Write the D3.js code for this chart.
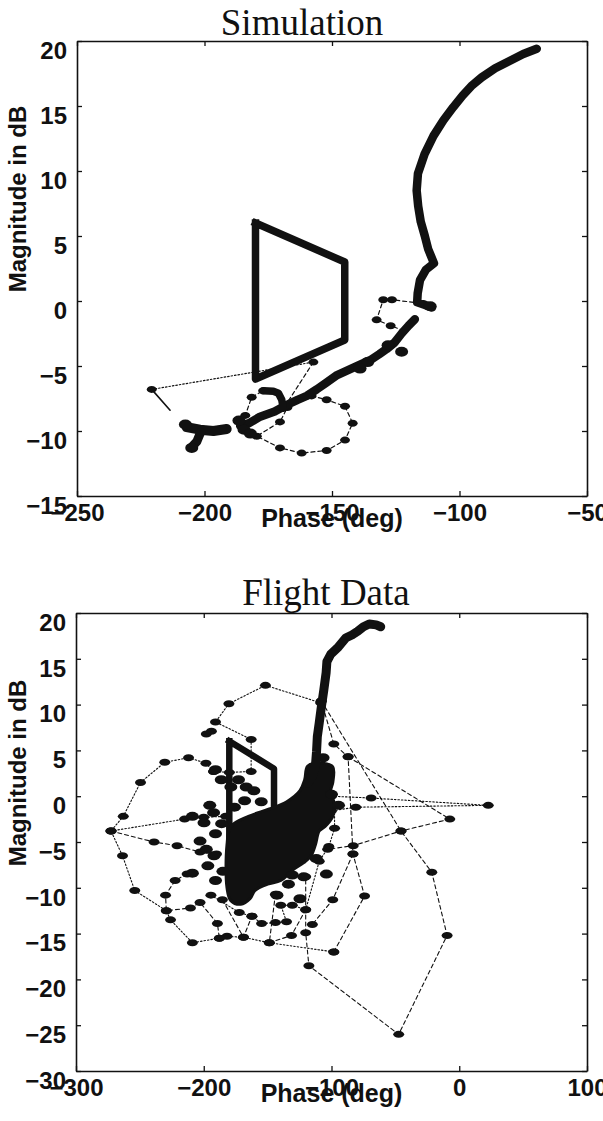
<!DOCTYPE html>
<html><head><meta charset="utf-8">
<script src="https://cdn.jsdelivr.net/npm/d3@7"></script>
<style>body{margin:0;background:#fff}</style>
</head><body>
<svg id="c" width="603" height="1121"></svg>
<script>
// ---------- tick labels ----------
const simPhaseTicks = [-250, -200, -150, -100, -50];
const simMagTicks = [-15, -10, -5, 0, 5, 10, 15, 20];
const flightPhaseTicks = [-300, -200, -100, 0, 100];
const flightMagTicks = [-30, -25, -20, -15, -10, -5, 0, 5, 10, 15, 20];

// ---------- exclusion boundary (phase deg, magnitude dB) ----------
const boundary = [[-180, 6], [-145, 3], [-145, -3], [-180, -6], [-180, 6]];

// ---------- Simulation ----------
const simUpper = [[-69.7,19.4],[-75,19],[-80,18.5],[-86,17.9],[-91.3,17.2],[-95,16.6],[-98.8,15.8],[-102.5,14.9],[-106.3,13.9],[-110.2,12.7],[-113.7,11.3],[-116.3,9.8],[-116.8,8.5],[-116.2,7.3],[-115.2,6.1],[-113.6,5],[-112.3,4],[-110,2.9],[-113.2,2.4],[-115.5,1.6],[-116.4,0.6],[-116.6,-0.1],[-113.5,-0.3],[-110.8,-0.5]];
const simLower = [[-117.5,-1.4],[-120,-1.9],[-122.7,-2.5],[-125.5,-3.2],[-128.6,-3.7],[-131.5,-4.1],[-134.6,-4.5],[-139,-4.9],[-143.5,-5.3],[-148,-5.7],[-152.4,-6.3],[-156,-6.8],[-159.9,-7.3],[-163.5,-7.6],[-167.8,-8],[-172.5,-8.5],[-178.2,-8.9],[-182.5,-9.4],[-186,-9.6]];
const simHook = [[-169.1,-8.25],[-169.7,-7.6],[-171,-7.1],[-173,-6.95],[-176.9,-6.9]];
const simBlob = [[-207,-9.7],[-201.8,-9.9],[-196.5,-10],[-191.3,-9.85]];
const simBlobTail = [[-201.5,-10.1],[-203,-10.8],[-204.8,-11.2]];
const simBeads = [[-122.7,-3.9],[-136,-4.7],[-139,-5.2],[-111.5,-0.4],[-184.5,-9.9],[-182,-10.2],[-186.5,-9.2],[-128,-3.4],[-207.5,-9.5],[-205,-11.3]];
const simCircle = [[-158,-7.3],[-152.1,-7.6],[-144.9,-8.1],[-141.9,-9.4],[-144.9,-10.7],[-152.1,-11.5],[-161.9,-11.7],[-170.4,-11.3],[-179.5,-10.4],[-170.4,-9.3],[-167.5,-8.2]];
const simLeftDash = [[-185,-9.4],[-184,-8.8],[-181.5,-7.4],[-177,-6.9]];
const simQuad = [[-118,-0.1],[-122.5,0],[-126.5,0.1],[-129.9,0.1],[-132.5,-1.45],[-127,-1.9],[-123,-2.2]];
const simDotted = [[-220.7,-6.8],[-157.3,-4.7]];
const simDash2 = [[-157.3,-4.7],[-167.8,-7.9]];
const simThin = [[-220.7,-6.8],[-213.5,-8.4]];

// ---------- Flight data ----------
const flightUpper = [[-61.5,18.5],[-65,18.7],[-70.5,18.8],[-75,18.5],[-79.5,18],[-84,17.6],[-88.6,17.3],[-94.6,16.3],[-100.6,15.5],[-103.6,14.7],[-104.2,13.5],[-106,11.6],[-108.1,9.6],[-109.6,8],[-111.1,6.5],[-111.7,4.9],[-112.6,3.3],[-115,2.2],[-118.6,1.4]];
const flightMass = [[-118.6,3.3],[-108,3.6],[-99,3.2],[-99,1.5],[-100.6,0.6],[-97.6,-1],[-99,-2.2],[-105,-3.3],[-109.6,-3.8],[-112.6,-5.3],[-116,-6.5],[-121.7,-7.25],[-130,-8],[-139.7,-9.2],[-150,-9.6],[-160,-10.3],[-163.8,-11.2],[-171,-11.8],[-178.8,-11.4],[-181.8,-10],[-181.8,-5.3],[-178.8,-3.3],[-165,-2.2],[-148.7,-1.4],[-135,-0.6],[-124.7,0.6],[-121,1.8]];
const flightBlobs = [[-172.8,1.8],[-166.8,1],[-178.8,1],[-160.8,0.6],[-190.8,2.9],[-186.3,1.8],[-195.3,-1],[-192.3,-1.8],[-208.9,-2.2],[-199.8,-2.9],[-190.8,-4.1],[-202.9,-4.9],[-196.8,-7.6],[-208.9,-8.4],[-190.8,-9.2],[-130.7,-8.6],[-133.7,-9.6],[-121.7,-8.8],[-142.7,-10.8],[-124.7,-11.2],[-106.6,4.2],[-100,0.2],[-94.5,-1],[-192,-6.5],[-198,-5.8],[-168,-0.5],[-176,-1.2],[-104,-8.5],[-185,-8.2],[-186,-3],[-155,-0.6],[-112,-6.8]];
const fArcTop = [[-108.5,10.2],[-151.7,12.1],[-180.3,10.1],[-190.8,8.1],[-162.9,6.2],[-162.9,2.7],[-180,2.6],[-192.3,2.7]];
const fPair = [[-198,6.8],[-194,7.1]];
const fLoopLeft = [[-192.3,2.7],[-198.3,3.6],[-211.9,4.2],[-230.5,3.7],[-249.5,1.5],[-263,-2.2],[-272.6,-3.8],[-263.6,-6.5],[-254,-10.3],[-229.3,-12.5],[-226,-13.5],[-208.9,-16],[-187.8,-15.5],[-181.8,-15.3],[-168.9,-15.4],[-148.7,-16],[-98.2,-17]];
const fLoopRight = [[-98.2,-17],[-74.1,-10.9],[-83.2,-6.3],[-87,4.3],[-98.2,5.7],[-108,10.4]];
const fMid = [[-83.2,-6.3],[-99,-11.3],[-115,-14]];
const fBigLoop = [[-108,10.4],[-45.6,-3.8],[-21.5,-8.3],[-9.5,-15.2],[-47.4,-26],[-117.7,-18.5],[-120.2,-14.9],[-120.2,-8.8]];
const fRayA = [[-87,4.3],[-7.4,-2.5],[-45.6,-3.8],[-83,-5.4],[-103,-5.8]];
const fRayB = [[-100,0],[-69,-0.2],[22.7,-1],[-81,-1.2],[-100,-1.6]];
const fRayL1 = [[-272.6,-3.8],[-215,-2.5],[-200,-2.3],[-183,-2.2]];
const fRayL2 = [[-272.6,-3.8],[-238.9,-5],[-220.9,-5.4],[-202.9,-6.1],[-190,-6.3]];
const fIn1 = [[-213,-8.5],[-222.4,-9.2],[-229.9,-10.8],[-229.3,-12.5],[-210.4,-12.2],[-202.9,-11.6],[-189.3,-13.9],[-187.8,-15.5]];
const fIn2 = [[-194.4,-10.8],[-172.2,-12.7],[-162.3,-13.1],[-154.7,-13.9],[-143.9,-13.8],[-135.2,-13.7],[-139.7,-11.9],[-130.7,-11.9],[-120.2,-12.4],[-109.6,-7.1],[-102.1,-5.5],[-97.6,-3.5],[-97.6,-1],[-100,0.2]];
const fIn3 = [[-185.4,-11.3],[-168.9,-15.4],[-162.3,-13.1]];
const fIn4 = [[-143.9,-10.7],[-148.7,-16],[-131.3,-15.2],[-120.2,-12.4]];

// ---------- drawing ----------
const svg = d3.select('#c');
const INK = '#111';
const DASH = '4,3', DOT = '1.5,2';

function panel(o) {
  const x = d3.scaleLinear().domain(o.xd).range([o.l, o.r]);
  const y = d3.scaleLinear().domain(o.yd).range([o.b, o.t]);
  const g = svg.append('g');
  const line = d3.line().x(d => x(d[0])).y(d => y(d[1]));
  const cp = 'clip' + o.id;
  svg.append('clipPath').attr('id', cp).append('rect')
    .attr('x', o.l).attr('y', o.t).attr('width', o.r - o.l).attr('height', o.b - o.t);
  const plot = g.append('g').attr('clip-path', `url(#${cp})`);

  function path(data, w, dash, cap) {
    plot.append('path').datum(data).attr('d', line)
      .attr('fill', 'none').attr('stroke', INK).attr('stroke-width', w)
      .attr('stroke-dasharray', dash || null)
      .attr('stroke-linejoin', 'round').attr('stroke-linecap', cap || 'round');
  }
  function dots(data, rx, ry) {
    plot.append('g').selectAll('ellipse').data(data).join('ellipse')
      .attr('cx', d => x(d[0])).attr('cy', d => y(d[1]))
      .attr('rx', rx).attr('ry', ry).attr('fill', INK);
  }
  o.draw({ x, y, line, plot, path, dots });

  const left = g.append('g').attr('transform', `translate(${o.l},0)`)
    .call(d3.axisLeft(y).tickValues(o.yt).tickSizeInner(-5).tickSizeOuter(0).tickPadding(10));
  const bottom = g.append('g').attr('transform', `translate(0,${o.b})`)
    .call(d3.axisBottom(x).tickValues(o.xt).tickSizeInner(-5).tickSizeOuter(0).tickPadding(8));
  g.append('g').attr('transform', `translate(${o.r},0)`)
    .call(d3.axisRight(y).tickValues(o.yt).tickSizeInner(-5).tickSizeOuter(0).tickFormat(''));
  g.append('g').attr('transform', `translate(0,${o.t})`)
    .call(d3.axisTop(x).tickValues(o.xt).tickSizeInner(-5).tickSizeOuter(0).tickFormat(''));
  g.selectAll('.domain').attr('stroke', INK).attr('stroke-width', 1.6);
  g.selectAll('.tick line').attr('stroke', INK).attr('stroke-width', 1.3);
  [left, bottom].forEach(a => a.selectAll('text')
    .attr('font-family', 'Liberation Sans, Arial, sans-serif').attr('font-weight', 'bold')
    .attr('font-size', 24).attr('fill', INK));
  left.selectAll('text').attr('dy', '0.72em');
  bottom.selectAll('text').attr('dy', '0.71em');

  g.append('text').attr('x', o.titleX).attr('y', o.titleY).attr('text-anchor', 'middle')
    .attr('font-family', 'Liberation Serif, Times New Roman, serif').attr('font-size', 37)
    .attr('fill', INK).text(o.title);
  g.append('text').attr('x', (o.l + o.r) / 2).attr('y', o.b + 31).attr('text-anchor', 'middle')
    .attr('font-family', 'Liberation Sans, Arial, sans-serif').attr('font-weight', 'bold')
    .attr('font-size', 25).attr('fill', INK).text('Phase (deg)');
  g.append('text').attr('transform', `translate(26,${o.ylabY}) rotate(-90)`)
    .attr('text-anchor', 'middle')
    .attr('font-family', 'Liberation Sans, Arial, sans-serif').attr('font-weight', 'bold')
    .attr('font-size', 24).attr('fill', INK).text('Magnitude in dB');
}

panel({
  id: 'sim', xd: [-250, -50], yd: [-15, 20], l: 77, r: 587, t: 41, b: 496,
  xt: simPhaseTicks, yt: simMagTicks, title: 'Simulation', titleX: 302, titleY: 35, ylabY: 199,
  draw: ({ path, dots }) => {
    path(simDotted, 1.2, DOT);
    path(simDash2, 1.2, DASH);
    path(simThin, 1.6);
    path(simCircle, 1.2, DASH);
    path(simLeftDash, 1.2, DASH);
    path(simQuad, 1.2, DASH);
    dots(simCircle, 5, 3.5);
    dots(simLeftDash, 5, 3.5);
    dots([simQuad[2], simQuad[3], simQuad[4], simQuad[5]], 5, 3.5);
    dots([simDotted[0], simDotted[1]], 5, 3.5);
    path(boundary, 7.5, null, 'square');
    path(simUpper, 8.5);
    path(simLower, 8.5);
    path(simHook, 7.5);
    path(simBlob, 10);
    path(simBlobTail, 9);
    dots(simBeads, 6.5, 5);
  }
});

panel({
  id: 'fl', xd: [-300, 100], yd: [-30, 20], l: 76, r: 587, t: 613, b: 1071,
  xt: flightPhaseTicks, yt: flightMagTicks, title: 'Flight Data', titleX: 326, titleY: 605, ylabY: 773,
  draw: ({ path, dots, plot, x, y }) => {
    const lines = [[fArcTop, DOT], [fLoopLeft, DOT], [fLoopRight, DASH], [fMid, DASH], [fBigLoop, DASH],
      [fRayA, DASH], [fRayB, DOT], [fRayL1, DOT], [fRayL2, DASH], [fIn1, DASH], [fIn2, DOT], [fIn3, DASH], [fIn4, DASH]];
    lines.forEach(([d, s]) => path(d, 1.1, s));
    lines.forEach(([d]) => dots(d, 5.5, 3.5));
    dots(fPair, 5.5, 3.5);
    path(boundary, 6.5, null, 'square');
    plot.append('path').datum(flightMass)
      .attr('d', d3.line().x(d => x(d[0])).y(d => y(d[1])).curve(d3.curveCatmullRomClosed))
      .attr('fill', INK).attr('stroke', INK).attr('stroke-width', 3);
    dots(flightBlobs, 6.5, 4.5);
    path(flightUpper, 9);
  }
});
</script>
</body></html>
